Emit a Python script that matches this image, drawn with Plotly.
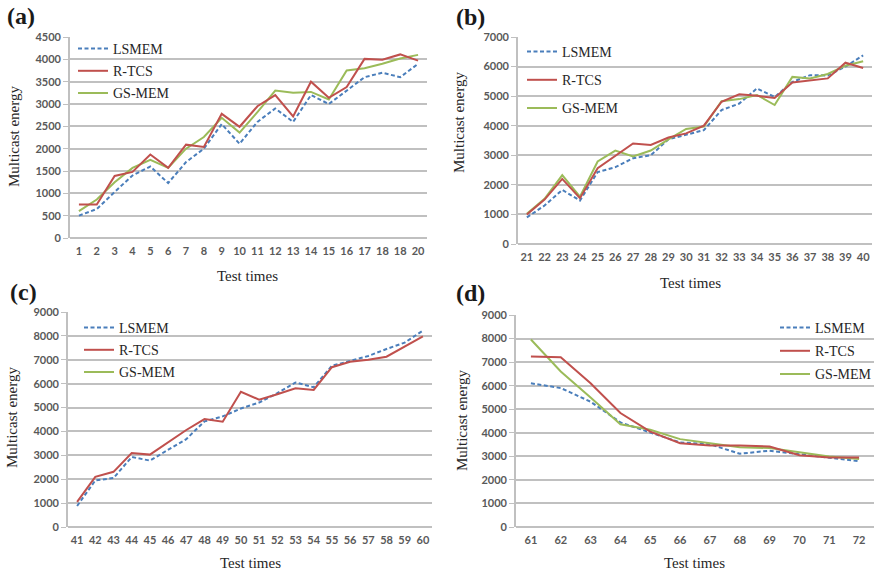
import plotly.graph_objects as go

W, H = 874, 575

# ---------------- data ----------------
x_a = list(range(1, 21))
tick_a = ["1", "2", "3", "4", "5", "6", "7", "8", "9", "10", "11", "12", "13", "14", "15", "16", "17", "18", "18", "20"]
lsmem_a = [500, 650, 1030, 1400, 1600, 1230, 1700, 2000, 2550, 2110, 2600, 2900, 2600, 3200, 3000, 3300, 3600, 3700, 3600, 3900]
rtcs_a = [750, 750, 1390, 1480, 1870, 1570, 2090, 2040, 2780, 2490, 2950, 3200, 2720, 3500, 3140, 3380, 4010, 3990, 4110, 3970]
gsmem_a = [600, 860, 1250, 1570, 1750, 1570, 2000, 2260, 2690, 2360, 2820, 3300, 3250, 3270, 3100, 3750, 3800, 3900, 4020, 4100]

x_b = list(range(21, 41))
tick_b = [str(v) for v in x_b]
lsmem_b = [900, 1300, 1830, 1470, 2430, 2600, 2900, 3000, 3540, 3700, 3850, 4530, 4750, 5260, 4970, 5480, 5710, 5700, 6000, 6380]
rtcs_b = [1000, 1500, 2200, 1550, 2560, 2980, 3400, 3350, 3600, 3740, 4000, 4810, 5060, 5010, 4940, 5460, 5540, 5600, 6130, 5950]
gsmem_b = [1020, 1530, 2330, 1600, 2790, 3160, 2960, 3160, 3540, 3890, 3970, 4830, 4900, 5040, 4700, 5650, 5600, 5750, 6030, 6180]

x_c = list(range(41, 61))
tick_c = [str(v) for v in x_c]
lsmem_c = [880, 1950, 2050, 2930, 2780, 3220, 3680, 4420, 4630, 4960, 5210, 5600, 6050, 5850, 6750, 6950, 7160, 7450, 7720, 8220]
rtcs_c = [1050, 2100, 2310, 3100, 3030, 3530, 4060, 4520, 4410, 5660, 5330, 5560, 5810, 5740, 6690, 6920, 7000, 7130, 7540, 7980]
gsmem_c = [None] * 20

x_d = list(range(61, 73))
tick_d = [str(v) for v in x_d]
lsmem_d = [6100, 5900, 5320, 4440, 4010, 3590, 3510, 3110, 3240, 3090, 2950, 2790]
rtcs_d = [7240, 7210, 6100, 4840, 4050, 3560, 3460, 3460, 3420, 3050, 2950, 2950]
gsmem_d = [7960, 6600, 5500, 4360, 4130, 3730, 3560, 3390, 3350, 3160, 2990, 2890]

yrange_a, ystep_a = 4500, 500
yrange_b, ystep_b = 7000, 1000
yrange_c, ystep_c = 9000, 1000
yrange_d, ystep_d = 9000, 1000

# ---------------- style ----------------
BLUE = "#4a7ebb"
RED = "#c0504d"
GREEN = "#9bbb59"
GRID = "#c0c0c0"
TICKFONT = dict(family="Lato", size=11, color="#595959", weight="bold")
SERIF = "Liberation Serif"


def px_x(p):
    return p / W


def px_y(p):
    return 1 - p / H


panels = [
    # name, x, ticks, series, ymax, ystep, xdom(px), ydom(px), legend pos(px), legend gap
    ("a", x_a, tick_a, (lsmem_a, rtcs_a, gsmem_a), yrange_a, ystep_a, (70, 427), (37, 238), (73, 33), 1),
    ("b", x_b, tick_b, (lsmem_b, rtcs_b, gsmem_b), yrange_b, ystep_b, (518, 872), (37, 244), (522, 36), 7),
    ("c", x_c, tick_c, (lsmem_c, rtcs_c, gsmem_c), yrange_c, ystep_c, (68, 432), (312, 527), (79, 312), 1),
    ("d", x_d, tick_d, (lsmem_d, rtcs_d, gsmem_d), yrange_d, ystep_d, (516, 874), (315, 527), (775, 312), 2),
]

fig = go.Figure()
layout = {}
annotations = []
names = ["LSMEM", "R-TCS", "GS-MEM"]
colors = [BLUE, RED, GREEN]
dashes = ["4px,2.5px", "solid", "solid"]

for i, (nm, xs, ticks, series, ymax, ystep, xd, yd, lpos, gap) in enumerate(panels):
    k = "" if i == 0 else str(i + 1)
    leg = "legend" if i == 0 else f"legend{i + 1}"
    # draw order: LSMEM, GS-MEM, R-TCS (legend order LSMEM, R-TCS, GS-MEM)
    for j in [0, 2, 1]:
        fig.add_trace(go.Scatter(
            x=xs, y=series[j], name=names[j], mode="lines",
            line=dict(color=colors[j], width=2, dash=dashes[j]),
            xaxis="x" + k, yaxis="y" + k, legend=leg, legendrank=j + 1,
            legendgroup=f"{nm}{j}",
        ))
    layout["xaxis" + k] = dict(
        domain=[px_x(xd[0]), px_x(xd[1])], anchor="y" + k,
        range=[xs[0] - 0.5, xs[-1] + 0.5],
        tickmode="array", tickvals=xs, ticktext=ticks,
        showgrid=False, zeroline=False, showline=False,
        tickfont=TICKFONT, ticks="", ticklabelstandoff=5, automargin=False,
    )
    layout["yaxis" + k] = dict(
        domain=[px_y(yd[1]), px_y(yd[0])], anchor="x" + k,
        range=[0, ymax], tickmode="linear", tick0=0, dtick=ystep,
        showgrid=True, gridcolor=GRID, gridwidth=1.6,
        zeroline=True, zerolinecolor=GRID, zerolinewidth=1.6,
        showline=True, linecolor=GRID, linewidth=1.6,
        ticks="outside", ticklen=5, tickcolor=GRID, tickwidth=1.2,
        tickfont=TICKFONT, automargin=False,
    )
    layout[leg] = dict(
        x=px_x(lpos[0]), y=px_y(lpos[1]), xanchor="left", yanchor="top",
        bgcolor="rgba(255,255,255,0)", font=dict(family=SERIF, size=14, color="#262626"),
        itemwidth=30, tracegroupgap=gap,
    )
    # panel label
    lab_x = {"a": 5, "b": 454, "c": 8, "d": 454}[nm]
    lab_y = {"a": 16, "b": 17, "c": 292, "d": 293}[nm]
    annotations.append(dict(
        text=f"<b>({nm})</b>", x=px_x(lab_x), y=px_y(lab_y), xref="paper", yref="paper",
        xanchor="left", yanchor="middle", showarrow=False,
        font=dict(family=SERIF, size=24, color="#1a1a1a"),
    ))
    # axis titles
    xt = {"a": (248, 276), "b": (690, 283), "c": (250, 563), "d": (694, 563)}[nm]
    annotations.append(dict(
        text="Test times", x=px_x(xt[0]), y=px_y(xt[1]), xref="paper", yref="paper",
        xanchor="center", yanchor="middle", showarrow=False,
        font=dict(family=SERIF, size=15, color="#262626"),
    ))
    yt = {"a": (14, 137), "b": (459, 123), "c": (12, 418), "d": (462, 420)}[nm]
    annotations.append(dict(
        text="Multicast energy", x=px_x(yt[0]), y=px_y(yt[1]), xref="paper", yref="paper",
        xanchor="center", yanchor="middle", showarrow=False, textangle=-90,
        font=dict(family=SERIF, size=15, color="#262626"),
    ))

fig.update_layout(
    width=W, height=H, margin=dict(l=0, r=0, t=0, b=0, autoexpand=False),
    paper_bgcolor="white", plot_bgcolor="white",
    annotations=annotations, **layout,
)

fig.write_html(
    "out.html",
    config={"displayModeBar": False},
    post_script="document.body.style.margin='0';document.body.style.overflow='hidden';",
)
